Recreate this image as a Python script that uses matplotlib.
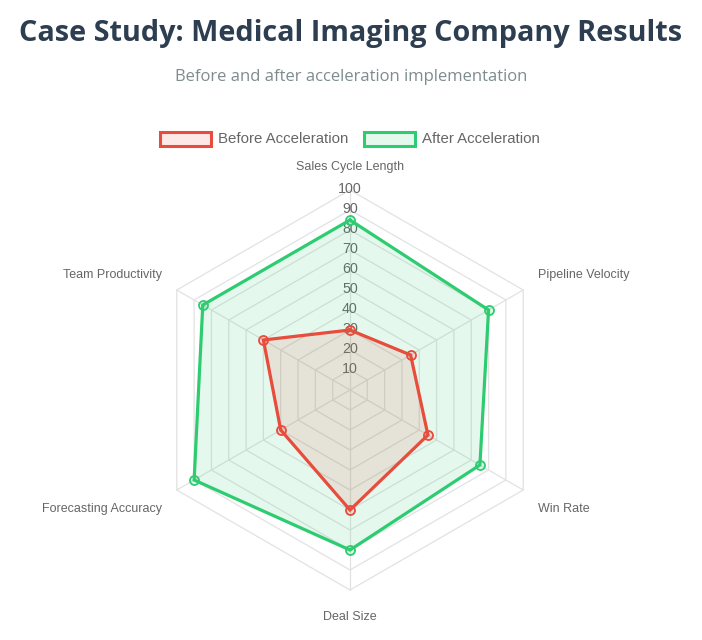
import numpy as np
import matplotlib
matplotlib.use("Agg")
import matplotlib.pyplot as plt
from matplotlib.patches import Rectangle, Polygon

categories = ["Sales Cycle Length", "Pipeline Velocity", "Win Rate",
              "Deal Size", "Forecasting Accuracy", "Team Productivity"]
before = [30, 35, 45, 60, 40, 50]
after = [85, 80, 75, 80, 90, 85]
ticks = [10, 20, 30, 40, 50, 60, 70, 80, 90, 100]
series_names = ["Before Acceleration", "After Acceleration"]
title = "Case Study: Medical Imaging Company Results"
subtitle = "Before and after acceleration implementation"

RED = "#e74c3c"
GREEN = "#2ecc71"
W, H = 702, 640
fig = plt.figure(figsize=(W / 100, H / 100), dpi=100)
ax = fig.add_axes([0, 0, 1, 1])
# 1 value unit = 2 px, center at pixel (350, 390 from top)
ax.set_xlim(-350 / 2, (W - 350) / 2)
ax.set_ylim(-(H - 390) / 2, 390 / 2)
ax.set_aspect("equal")
ax.axis("off")

n = len(categories)
theta = np.arange(n) * 2 * np.pi / n


def xy(vals):
    v = np.asarray(vals, dtype=float)
    return v * np.sin(theta), v * np.cos(theta)


grid_col = "#e2e2e2"
for t in ticks:
    gx, gy = xy([t] * n)
    ax.add_patch(Polygon(np.column_stack([gx, gy]), closed=True, fill=False,
                         edgecolor=grid_col, lw=0.9, zorder=1))
for th in theta:
    ax.plot([0, 100 * np.sin(th)], [0, 100 * np.cos(th)], color=grid_col,
            lw=0.9, zorder=1)

for t in ticks:
    ax.text(0, t + 0.5, str(t), ha="center", va="center", fontsize=10.3,
            color="#666666", family="Liberation Sans", zorder=2)

for vals, col, z in [(after, GREEN, 3), (before, RED, 4)]:
    px, py = xy(vals)
    ax.add_patch(Polygon(np.column_stack([px, py]), closed=True,
                         facecolor=matplotlib.colors.to_rgba(col, 0.12),
                         edgecolor="none", zorder=z))
    ax.plot(np.append(px, px[0]), np.append(py, py[0]), color=col, lw=2.3,
            zorder=z + 0.1, solid_joinstyle="miter")
    ax.plot(px, py, "o", ms=6.5, mfc=matplotlib.colors.to_rgba(col, 0.15),
            mec=col, mew=1.3, zorder=z + 0.2)

# point labels
for lab, th in zip(categories, theta):
    sx, sy = np.sin(th), np.cos(th)
    if abs(sx) < 1e-6:
        x, y = 0, 100 * sy + 12.5 * np.sign(sy) - 1
        ha = "center"
    else:
        x = 100 * sx + 7.5 * np.sign(sx)
        y = 100 * sy + 8.5 * np.sign(sy) - 1
        ha = "left" if sx > 0 else "right"
    ax.text(x, y, lab, ha=ha, va="center", fontsize=9, color="#666666",
            family="Liberation Sans")

fig.text(351 / W, 1 - 41.5 / H, title, ha="center", va="baseline",
         fontsize=20.8, fontweight="bold", color="#2c3e50", family="Open Sans")
fig.text(351 / W, 1 - 81 / H, subtitle, ha="center", va="baseline",
         fontsize=12, color="#7f8c8d", family="Open Sans")

# legend
legend_items = [(series_names[0], RED, 160), (series_names[1], GREEN, 364)]
for name, col, x0 in legend_items:
    fig.add_artist(Rectangle((x0 / W, 1 - 145.5 / H), 51 / W, 14 / H,
                             transform=fig.transFigure,
                             facecolor=matplotlib.colors.to_rgba(col, 0.12),
                             edgecolor=col, lw=2.2))
    fig.text((x0 + 58) / W, 1 - 139 / H, name, ha="left", va="center",
             fontsize=10.8, color="#666666", family="Liberation Sans")

fig.savefig("out.png", dpi=100, facecolor="white")
